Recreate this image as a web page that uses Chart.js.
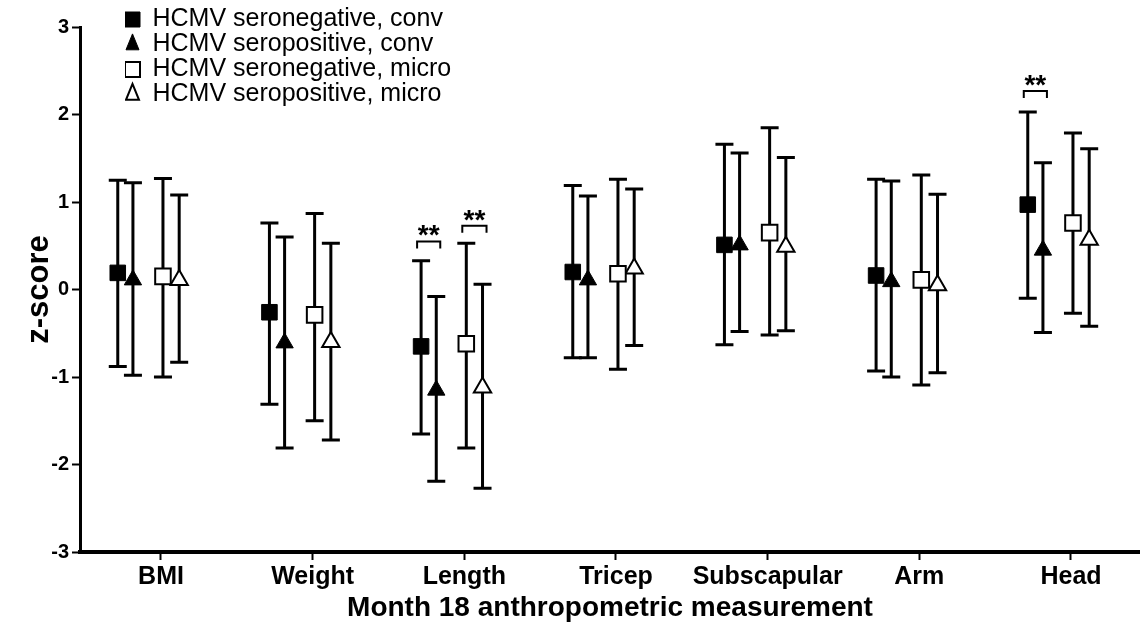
<!DOCTYPE html>
<html>
<head>
<meta charset="utf-8">
<script src="https://cdn.jsdelivr.net/npm/chart.js@4.4.0/dist/chart.umd.min.js"></script>
<style>
  html, body { margin: 0; padding: 0; background: #fff; }
  #wrap { width: 1140px; height: 626px; position: relative; }
</style>
</head>
<body>
<div id="wrap"><canvas id="chart"></canvas></div>
<script>
// Categories on the x axis
const measurements = ['BMI', 'Weight', 'Length', 'Tricep', 'Subscapular', 'Arm', 'Head'];

const seriesNames = [
    'HCMV seronegative, conv',
    'HCMV seropositive, conv',
    'HCMV seronegative, micro',
    'HCMV seropositive, micro'
];

// Mean z-score and error bar ends
const negConvMean = [0.19, -0.26, -0.65, 0.20, 0.51, 0.16, 0.97];
const negConvLow  = [-0.88, -1.31, -1.65, -0.78, -0.63, -0.93, -0.10];
const negConvHigh = [1.25, 0.76, 0.33, 1.19, 1.66, 1.26, 2.03];

const posConvMean = [0.11, -0.61, -1.15, 0.11, 0.51, 0.09, 0.45];
const posConvLow  = [-0.98, -1.81, -2.19, -0.78, -0.48, -1.00, -0.49];
const posConvHigh = [1.22, 0.60, -0.08, 1.07, 1.56, 1.24, 1.45];

const negMicroMean = [0.15, -0.29, -0.62, 0.18, 0.65, 0.11, 0.76];
const negMicroLow  = [-1.00, -1.50, -1.81, -0.91, -0.52, -1.09, -0.27];
const negMicroHigh = [1.27, 0.87, 0.53, 1.26, 1.85, 1.31, 1.79];

const posMicroMean = [0.11, -0.60, -1.12, 0.24, 0.49, 0.05, 0.57];
const posMicroLow  = [-0.83, -1.72, -2.27, -0.64, -0.47, -0.95, -0.42];
const posMicroHigh = [1.08, 0.53, 0.06, 1.15, 1.51, 1.09, 1.61];

// Significance brackets: category, the two series joined, height in z units
const sigCategory = [2, 2, 6];
const sigFrom = [0, 2, 0];
const sigTo = [1, 3, 1];
const sigLevel = [0.55, 0.73, 2.27];
const sigLabel = ['**', '**', '**'];

const yTicks = [-3, -2, -1, 0, 1, 2, 3];

const means = [negConvMean, posConvMean, negMicroMean, posMicroMean];
const lows = [negConvLow, posConvLow, negMicroLow, posMicroLow];
const highs = [negConvHigh, posConvHigh, negMicroHigh, posMicroHigh];

// Where each series sits inside its category (category units)
const seriesShift = [-0.285, -0.185, 0.013, 0.12];
const pointStyles = ['rect', 'triangle', 'rect', 'triangle'];
const filled = [true, true, false, false];

const FONT = "'Liberation Sans', Arial, sans-serif";
Chart.defaults.font.family = FONT;
Chart.defaults.color = '#000';

function xFor(series, i) {
    return i + seriesShift[series];
}

// Vertical error bars with caps, drawn under the markers
const errorBarPlugin = {
    id: 'errorBars',
    beforeDatasetsDraw(chart) {
        const ctx = chart.ctx;
        const xs = chart.scales.x;
        const ys = chart.scales.y;
        ctx.save();
        ctx.strokeStyle = '#000';
        ctx.lineWidth = 3;
        ctx.lineCap = 'butt';
        means.forEach((m, s) => {
            m.forEach((v, i) => {
                const x = xs.getPixelForValue(xFor(s, i));
                const top = ys.getPixelForValue(highs[s][i]);
                const bot = ys.getPixelForValue(lows[s][i]);
                ctx.beginPath();
                ctx.moveTo(x, top);
                ctx.lineTo(x, bot);
                ctx.moveTo(x - 9, top);
                ctx.lineTo(x + 9, top);
                ctx.moveTo(x - 9, bot);
                ctx.lineTo(x + 9, bot);
                ctx.stroke();
            });
        });
        ctx.restore();
    }
};

// "**" brackets over pairs of series
const sigPlugin = {
    id: 'sigBrackets',
    afterDatasetsDraw(chart) {
        const ctx = chart.ctx;
        const xs = chart.scales.x;
        const ys = chart.scales.y;
        ctx.save();
        ctx.strokeStyle = '#000';
        ctx.fillStyle = '#000';
        ctx.lineWidth = 2;
        ctx.font = 'bold 28px ' + FONT;
        ctx.textAlign = 'center';
        ctx.textBaseline = 'alphabetic';
        sigCategory.forEach((c, k) => {
            const x1 = xs.getPixelForValue(xFor(sigFrom[k], c)) - 4;
            const x2 = xs.getPixelForValue(xFor(sigTo[k], c)) + 4;
            const y = ys.getPixelForValue(sigLevel[k]);
            ctx.beginPath();
            ctx.moveTo(x1, y + 7);
            ctx.lineTo(x1, y);
            ctx.lineTo(x2, y);
            ctx.lineTo(x2, y + 7);
            ctx.stroke();
            ctx.fillText(sigLabel[k], (x1 + x2) / 2, y + 3);
        });
        ctx.restore();
    }
};

// Move the legend into the top-left corner like the original
const legendPlacePlugin = {
    id: 'legendPlace',
    afterLayout(chart) {
        chart.legend.left = 125;
        chart.legend.top = 7;
    }
};

const datasets = seriesNames.map((name, s) => ({
    label: name,
    data: means[s].map((v, i) => ({ x: xFor(s, i), y: v })),
    pointStyle: pointStyles[s],
    pointRadius: pointStyles[s] === 'rect' ? 11 : 10,
    pointHoverRadius: pointStyles[s] === 'rect' ? 11 : 10,
    backgroundColor: filled[s] ? '#000' : '#fff',
    borderColor: '#000',
    borderWidth: filled[s] ? 1 : 2,
    showLine: false
}));

new Chart(document.getElementById('chart'), {
    type: 'scatter',
    data: { datasets: datasets },
    plugins: [errorBarPlugin, sigPlugin, legendPlacePlugin],
    options: {
        responsive: true,
        maintainAspectRatio: false,
        animation: false,
        layout: {
            autoPadding: false,
            padding: { top: 27, right: 0, bottom: 0, left: 0 }
        },
        plugins: {
            tooltip: { enabled: false },
            legend: {
                position: 'chartArea',
                align: 'start',
                labels: {
                    usePointStyle: true,
                    boxHeight: 15,
                    pointStyleWidth: 15,
                    padding: 0,
                    color: '#000',
                    font: { size: 25 }
                }
            }
        },
        scales: {
            x: {
                type: 'linear',
                min: -0.534,
                max: 6.455,
                afterBuildTicks: scale => {
                    scale.ticks = measurements.map((m, i) => ({ value: i }));
                },
                afterFit: scale => { scale.height = 74; },
                ticks: {
                    autoSkip: false,
                    maxRotation: 0,
                    padding: 2,
                    font: { size: 25, weight: 'bold' },
                    callback: v => measurements[v] ?? ''
                },
                grid: {
                    drawOnChartArea: false,
                    drawTicks: true,
                    tickLength: 8,
                    tickWidth: 2,
                    color: '#000'
                },
                border: { display: true, color: '#000', width: 4 },
                title: {
                    display: true,
                    text: 'Month 18 anthropometric measurement',
                    font: { size: 28, weight: 'bold' },
                    padding: { top: 0, bottom: 1 }
                }
            },
            y: {
                min: -3,
                max: 3,
                afterBuildTicks: scale => {
                    scale.ticks = yTicks.map(v => ({ value: v }));
                },
                afterFit: scale => { scale.width = 80; },
                ticks: {
                    padding: 3,
                    font: { size: 20, weight: 'bold' }
                },
                grid: {
                    drawOnChartArea: false,
                    drawTicks: true,
                    tickLength: 8,
                    tickWidth: 2,
                    color: '#000'
                },
                border: { display: true, color: '#000', width: 3 },
                title: {
                    display: true,
                    text: 'z-score',
                    font: { size: 31, weight: 'bold' },
                    padding: { top: 21, bottom: 0 }
                }
            }
        }
    }
});
</script>
</body>
</html>
